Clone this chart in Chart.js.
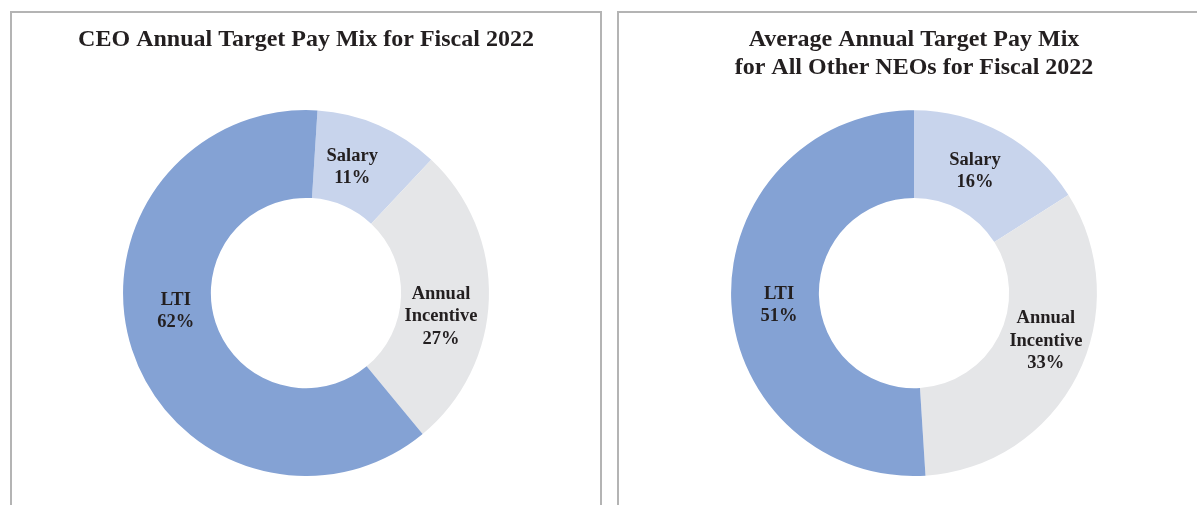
<!DOCTYPE html>
<html>
<head>
<meta charset="utf-8">
<script src="https://cdn.jsdelivr.net/npm/chart.js@4.4.0/dist/chart.umd.min.js"></script>
<style>
	html, body { margin: 0; padding: 0; background: #fff; overflow: hidden; width: 1197px; height: 505px; }
	.panel { position: absolute; top: 11px; height: 540px; border: 2px solid #b4b4b4; box-sizing: border-box; }
	#panel_one { left: 10px; width: 592px; }
	#panel_two { left: 617px; width: 594px; }
	canvas { display: block; }
</style>
</head>
<body>
<div class="panel" id="panel_one"><canvas id="chart_one"></canvas></div>
<div class="panel" id="panel_two"><canvas id="chart_two"></canvas></div>
<script>
// pay components, same order in both charts
var categories = ["Salary", "Annual Incentive", "LTI"]
var sliceLabels = [["Salary"], ["Annual", "Incentive"], ["LTI"]]
var ceoValues = [11, 27, 62]
var neoValues = [16, 33, 51]
var sliceColors = ["#c8d4ec", "#e5e6e8", "#84a2d4"]

var textColor = "#231f20"
var serif = "'Liberation Serif', 'Times New Roman', serif"

// draws "name / pct" in the middle of each ring slice (with a small nudge, like the original)
var sliceLabelPlugin = {
	id: "sliceLabels",
	afterDatasetsDraw: (chart, args, opts) => {
		var ctx = chart.ctx
		var data = chart.data.datasets[0].data
		var total = data.reduce((acc, v) => acc + v, 0)
		var nudge = opts.nudge || []
		ctx.save()
		ctx.fillStyle = textColor
		ctx.font = "bold 18.5px " + serif
		ctx.textAlign = "center"
		ctx.textBaseline = "middle"
		chart.getDatasetMeta(0).data.forEach((arc, i) => {
			var p = arc.getProps(["x", "y", "startAngle", "endAngle", "innerRadius", "outerRadius"], true)
			var mid = (p.startAngle + p.endAngle) / 2
			var r = (p.innerRadius + p.outerRadius) / 2
			var n = nudge[i] || [0, 0]
			var cx = p.x + Math.cos(mid) * r + n[0]
			var cy = p.y + Math.sin(mid) * r + n[1]
			var lines = sliceLabels[i].concat([Math.round(data[i] / total * 100) + "%"])
			var lh = 22.5
			lines.forEach((t, j) => {
				ctx.fillText(t, cx, cy + (j - (lines.length - 1) / 2) * lh)
			})
		})
		ctx.restore()
	}
}

var makeChart = (id, values, titleText, rotation, padBottom, nudge) => {
	var canvas = document.getElementById(id)
	canvas.width = id == "chart_one" ? 588 : 590
	canvas.height = 463
	canvas.style.width = canvas.width + "px"
	canvas.style.height = canvas.height + "px"
	return new Chart(canvas.getContext("2d"), {
		type: "doughnut",
		data: {
			labels: categories,
			datasets: [
				{
					data: values,
					backgroundColor: sliceColors,
					borderWidth: 0
				}
			]
		},
		plugins: [sliceLabelPlugin],
		options: {
			responsive: false,
			animation: false,
			cutout: "52%",
			rotation: rotation,
			layout: { padding: 0 },
			plugins: {
				legend: { display: false },
				tooltip: { enabled: false },
				sliceLabels: { nudge: nudge },
				title: {
					display: true,
					text: titleText,
					color: textColor,
					font: { family: serif, size: 24, weight: "bold", lineHeight: 1.17 },
					padding: { top: 13, bottom: padBottom }
				}
			}
		}
	})
}

var chart_one = makeChart("chart_one", ceoValues, "CEO Annual Target Pay Mix for Fiscal 2022", 3.6, 56,
	[[-9, 2], [-4, 19], [2, -25]])
var chart_two = makeChart("chart_two", neoValues, ["Average Annual Target Pay Mix", "for All Other NEOs for Fiscal 2022"], 0, 28,
	[[-6, 0], [8, -15], [4, 8]])
</script>
</body>
</html>
